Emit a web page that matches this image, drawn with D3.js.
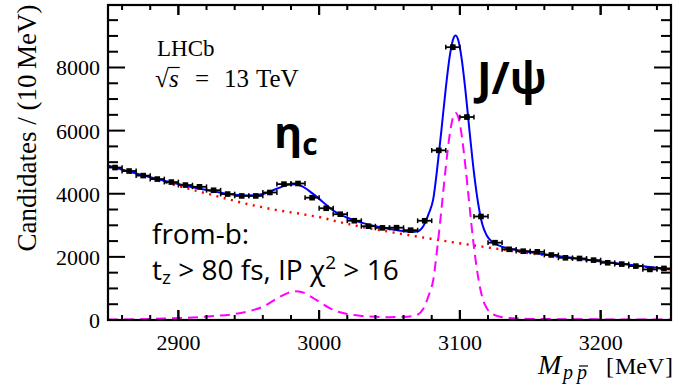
<!DOCTYPE html>
<html><head><meta charset="utf-8">
<script src="https://cdn.jsdelivr.net/npm/d3@7"></script>
<style>html,body{margin:0;padding:0;background:#fff;}svg{display:block;}</style>
</head><body>
<svg id="c" width="674" height="385"></svg>
<script>
// ---- data ----
const binCenters = [2855,2865,2875,2885,2895,2905,2915,2925,2935,2945,2955,2965,2975,2985,2995,3005,3015,3025,3035,3045,3055,3065,3075,3085,3095,3105,3115,3125,3135,3145,3155,3165,3175,3185,3195,3205,3215,3225,3235,3245];
const counts = [4830,4720,4575,4465,4370,4275,4220,4111,3990,3931,3931,4040,4305,4325,3875,3540,3352,3145,2972,2919,2925,2846,3145,5375,8643,6430,3280,2450,2240,2180,2160,2060,1970,1950,1897,1813,1771,1708,1602,1634];
const curveMass = [2850,2870,2890,2910,2925,2940,2950,2960,2970,2978,2983,2988,2995,3002,3010,3020,3030,3040,3050,3058,3066,3070,3074,3078,3081,3084,3087,3090,3093,3095,3097,3099,3101,3104,3107,3110,3113,3116,3119,3123,3128,3135,3150,3175,3200,3225,3250];
const bkgCurve = [4880,4615,4365,4128,3950,3775,3665,3570,3480,3425,3392,3355,3300,3245,3150,3050,2955,2870,2793,2731,2671,2642,2613,2584,2562,2540,2520,2498,2477,2463,2450,2436,2422,2402,2382,2362,2342,2323,2303,2278,2246,2203,2113,1970,1837,1713,1598];
const sigCurve = [15,25,45,80,125,190,280,420,680,860,910,880,720,520,320,190,130,100,90,95,120,170,360,800,1250,2300,3540,4850,5940,6400,6560,6400,5940,4850,3540,2310,1350,700,380,200,110,60,35,25,20,15,12];
const xMajorTicks = [2900,3000,3100,3200];
const yMajorTicks = [0,2000,4000,6000,8000];
const binHalfWidth = 5;

// ---- layout ----
const W = 674, H = 385;
const L = 108, R = 671, T = 5, B = 320;
const svg = d3.select('#c');
svg.append('rect').attr('width',W).attr('height',H).attr('fill','#fff');

const x = d3.scaleLinear().domain([2850,3250]).range([L,R]);
const y = d3.scaleLinear().domain([0,9980]).range([B,T]);

const serif = '"Liberation Serif","Times New Roman",serif';
const sans = '"Open Sans","DejaVu Sans",sans-serif';

// curves
const total = curveMass.map((m,i)=>({m, v: bkgCurve[i]+sigCurve[i]}));
const bkg = curveMass.map((m,i)=>({m, v: bkgCurve[i]}));
const sig = curveMass.map((m,i)=>({m, v: sigCurve[i]}));
const line = d3.line().x(d=>x(d.m)).y(d=>y(d.v)).curve(d3.curveMonotoneX);

const plot = svg.append('g');
plot.append('path').datum(bkg).attr('d',line).attr('fill','none')
  .attr('stroke','#ff0000').attr('stroke-width',2.4).attr('stroke-dasharray','2,5.5');
plot.append('path').datum(sig).attr('d',line).attr('fill','none')
  .attr('stroke','#ff00ff').attr('stroke-width',2).attr('stroke-dasharray','10,6');
plot.append('path').datum(total).attr('d',line).attr('fill','none')
  .attr('stroke','#0000ff').attr('stroke-width',2);

// data points
const pts = plot.append('g').attr('stroke','#000').attr('fill','#000');
binCenters.forEach((m,i)=>{
  const v = counts[i], e = Math.sqrt(v);
  const cx = x(m), cy = y(v);
  const x0 = x(m-binHalfWidth), x1 = x(m+binHalfWidth);
  pts.append('line').attr('x1',x0).attr('x2',x1).attr('y1',cy).attr('y2',cy).attr('stroke-width',1.8);
  pts.append('line').attr('x1',x0).attr('x2',x0).attr('y1',cy-2.4).attr('y2',cy+2.4).attr('stroke-width',1.5);
  pts.append('line').attr('x1',x1).attr('x2',x1).attr('y1',cy-2.4).attr('y2',cy+2.4).attr('stroke-width',1.5);
  pts.append('line').attr('x1',cx).attr('x2',cx).attr('y1',y(v+e)).attr('y2',y(v-e)).attr('stroke-width',1.8);
  pts.append('rect').attr('x',cx-2.8).attr('y',cy-2.8).attr('width',5.6).attr('height',5.6).attr('stroke','none');
});

// axes (ROOT style, ticks inside)
const ax = svg.append('g').attr('stroke','#000').attr('stroke-width',2);
d3.range(2860,3250,20).concat(xMajorTicks).forEach(m=>{
  const maj = xMajorTicks.includes(m);
  const len = maj ? 10 : 5;
  ax.append('line').attr('x1',x(m)).attr('x2',x(m)).attr('y1',B).attr('y2',B-len);
  ax.append('line').attr('x1',x(m)).attr('x2',x(m)).attr('y1',T).attr('y2',T+len);
});
d3.range(500,9980,500).forEach(v=>{
  const maj = yMajorTicks.includes(v);
  const len = maj ? 17 : 10;
  ax.append('line').attr('x1',L).attr('x2',L+len).attr('y1',y(v)).attr('y2',y(v));
  ax.append('line').attr('x1',R).attr('x2',R-len).attr('y1',y(v)).attr('y2',y(v));
});
svg.append('rect').attr('x',L).attr('y',T).attr('width',R-L).attr('height',B-T)
  .attr('fill','none').attr('stroke','#000').attr('stroke-width',2.2);

// tick labels
svg.append('g').selectAll('text').data(yMajorTicks).join('text')
  .attr('x',100).attr('y',d=>y(d)).attr('dy','0.36em').attr('text-anchor','end')
  .attr('font-family',serif).attr('font-size',22).text(d=>d);
svg.append('g').selectAll('text').data(xMajorTicks).join('text')
  .attr('x',d=>x(d)).attr('y',350).attr('text-anchor','middle')
  .attr('font-family',serif).attr('font-size',22).text(d=>d);

// axis titles
svg.append('text').attr('transform','translate(36,128) rotate(-90)').attr('text-anchor','middle')
  .attr('font-family',serif).attr('font-size',27).text('Candidates / (10\u2009MeV)');

const xt = svg.append('text').attr('y',374).attr('font-family',serif).attr('font-size',24);
xt.append('tspan').attr('x',538).attr('font-style','italic').attr('font-size',28).text('M');
xt.append('tspan').attr('x',563).attr('dy',5).attr('font-style','italic').attr('font-size',20).text('p');
xt.append('tspan').attr('x',577).attr('font-style','italic').attr('font-size',20).text('p');
xt.append('tspan').attr('x',606).attr('dy',-5).text('[');
xt.append('tspan').attr('x',615).text('MeV');
xt.append('tspan').attr('x',665).text(']');
{
  const ext = xt.node().getExtentOfChar(2);
  svg.append('line').attr('x1',ext.x+2).attr('x2',ext.x+ext.width+1).attr('y1',ext.y+5).attr('y2',ext.y+5)
    .attr('stroke','#000').attr('stroke-width',1.2);
}

// LHCb label
svg.append('text').attr('x',157).attr('y',56).attr('font-family',serif).attr('font-size',23).text('LHCb');
const rs = svg.append('text').attr('y',87).attr('font-family',serif).attr('font-size',25);
rs.append('tspan').attr('x',155).text('\u221A');
rs.append('tspan').attr('x',169).attr('font-style','italic').text('s');
rs.append('tspan').attr('x',195).text('=');
rs.append('tspan').attr('x',224).text('13');
rs.append('tspan').attr('x',256).text('TeV');
{
  const e0 = rs.node().getExtentOfChar(0);
  const e1 = rs.node().getExtentOfChar(1);
  svg.append('line').attr('x1',e0.x+e0.width-1).attr('x2',e1.x+e1.width+1)
    .attr('y1',e0.y+2.5).attr('y2',e0.y+2.5).attr('stroke','#000').attr('stroke-width',1.2);
}

// peak labels
const eta = svg.append('text').attr('x',274).attr('y',148).attr('font-family',sans).attr('font-weight',700).attr('font-size',43);
eta.append('tspan').text('\u03B7');
eta.append('tspan').attr('font-size',30).attr('dy',7).text('c');
svg.append('text').attr('x',477).attr('y',94).attr('font-family',sans).attr('font-weight',700).attr('font-size',44).text('J/\u03C8');

// selection text
svg.append('text').attr('x',152).attr('y',244).attr('font-family',sans).attr('font-size',28).text('from-b:');
const sel = svg.append('text').attr('x',152).attr('y',280).attr('font-family',sans).attr('font-size',28);
sel.append('tspan').text('t');
sel.append('tspan').attr('font-size',19).attr('dy',4).text('z');
sel.append('tspan').attr('dy',-4).text(' > 80 fs, IP \u03C7');
sel.append('tspan').attr('font-size',19).attr('dy',-11).text('2');
sel.append('tspan').attr('dy',11).text(' > 16');
</script>
</body></html>
